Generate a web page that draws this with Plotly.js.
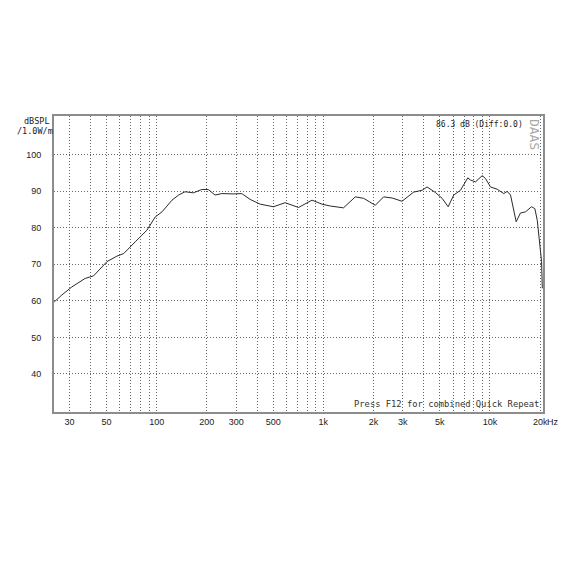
<!DOCTYPE html>
<html>
<head>
<meta charset="utf-8">
<script src="https://cdn.plot.ly/plotly-3.0.1.min.js"></script>
<style>html,body{margin:0;padding:0;background:#fff;}#chart{width:570px;height:570px;}</style>
</head>
<body>
<div id="chart"></div>
<script>
// Frequency response (Hz) and SPL (dB)
const freqHz = [24.3, 27, 31, 37.2, 41.8, 50.3, 57.7, 63.4, 74.3, 87.4, 98, 107.6, 123.6, 135.5,
  148, 166, 186, 204, 224, 246, 289, 324, 364, 418, 502, 590, 710, 855, 982, 1100, 1321,
  1555, 1745, 2050, 2300, 2585, 2966, 3483, 3914, 4193, 4700, 5160, 5610, 6060, 6650, 7360,
  7640, 8190, 8980, 9400, 10070, 11040, 12100, 12680, 13280, 13710, 14360, 15240, 16330,
  17750, 18580, 19220, 19830, 20400, 20600];
const splDb = [59.7, 61.6, 63.8, 66.1, 66.8, 70.7, 72.2, 72.9, 76.1, 79.3, 82.9, 84.3, 87.5, 88.9,
  89.8, 89.5, 90.4, 90.4, 88.9, 89.3, 89.2, 89.3, 87.7, 86.4, 85.7, 86.8, 85.5, 87.5, 86.4, 85.9, 85.4,
  88.4, 88.0, 86.1, 88.4, 88.1, 87.2, 89.7, 90.2, 91.1, 89.6, 88.0, 85.7, 88.9, 90.2, 93.6,
  93.0, 92.5, 94.2, 93.4, 91.1, 90.5, 89.3, 89.9, 88.9, 85.7, 81.6, 84.0, 84.3,
  85.7, 85.2, 82.0, 76.1, 70.7, 63.4];

// Axis ticks / grid
const xGridVals = [30, 40, 50, 60, 70, 80, 90, 100, 200, 300, 400, 500, 600, 700, 800, 900,
  1000, 2000, 3000, 4000, 5000, 6000, 7000, 8000, 9000, 10000, 20000];
const xGridText = ['30', '', '50', '', '', '', '', '100', '200', '300', '', '500', '', '', '', '',
  '1k', '2k', '3k', '', '5k', '', '', '', '', '10k', '20k'];
const yTickVals = [40, 50, 60, 70, 80, 90, 100];
const yTickText = ['40', '50', '60', '70', '80', '90', '100'];

const tickFont = {family: 'Liberation Sans, Arial, sans-serif', size: 9, color: '#222'};
const monoFont = {family: 'DejaVu Sans Mono, monospace', size: 8.5, color: '#222'};

const trace = {
  x: freqHz, y: splDb, type: 'scatter', mode: 'lines',
  line: {color: '#2a2a2a', width: 1},
  hoverinfo: 'skip'
};

const layout = {
  width: 570, height: 570,
  margin: {l: 54, r: 27, t: 116, b: 158, pad: 0},
  paper_bgcolor: '#ffffff', plot_bgcolor: '#ffffff',
  showlegend: false,
  xaxis: {
    type: 'log', range: [Math.log10(24.2), Math.log10(20800)],
    tickmode: 'array', tickvals: xGridVals, ticktext: xGridText,
    showgrid: true, gridcolor: '#666666', griddash: '1px,2px', gridwidth: 1,
    showline: true, linecolor: '#8c8c8c', linewidth: 2, mirror: true,
    ticks: '', zeroline: false, tickfont: tickFont, ticklabelstandoff: 0,
    fixedrange: true
  },
  yaxis: {
    range: [29.6, 110.5],
    tickmode: 'array', tickvals: yTickVals, ticktext: yTickText,
    showgrid: true, gridcolor: '#666666', griddash: '1px,2px', gridwidth: 1,
    showline: true, linecolor: '#8c8c8c', linewidth: 2, mirror: true,
    ticks: '', zeroline: false, tickfont: tickFont, ticklabelstandoff: 9,
    fixedrange: true
  },
  annotations: [
    {text: 'dBSPL', xref: 'paper', yref: 'paper', x: -0.065, y: 0.983, xanchor: 'left', yanchor: 'middle',
      showarrow: false, font: monoFont},
    {text: '/1.0W/m', xref: 'paper', yref: 'paper', x: -0.079, y: 0.951, xanchor: 'left', yanchor: 'middle',
      showarrow: false, font: monoFont},
    {text: '86.3 dB (Diff:0.0)', xref: 'paper', yref: 'paper', x: 0.778, y: 0.9696, xanchor: 'left', yanchor: 'middle',
      showarrow: false, font: {family: 'DejaVu Sans Mono, monospace', size: 8, color: '#222'}},
    {text: 'DAAS', xref: 'paper', yref: 'paper', x: 0.984, y: 0.939, xanchor: 'center', yanchor: 'middle',
      textangle: 90, showarrow: false, font: {family: 'DejaVu Sans Mono, monospace', size: 13, color: '#a8a8a8'}},
    {text: 'Press F12 for combined Quick Repeat', xref: 'paper', yref: 'paper', x: 0.996, y: 0.004,
      xanchor: 'right', yanchor: 'bottom', showarrow: false,
      font: {family: 'DejaVu Sans Mono, monospace', size: 8.8, color: '#333'}},
    {text: 'Hz', xref: 'paper', yref: 'paper', x: 1.0035, y: -0.034, xanchor: 'left', yanchor: 'middle',
      showarrow: false, font: tickFont}
  ]
};

Plotly.newPlot('chart', [trace], layout, {displayModeBar: false, staticPlot: true});
</script>
</body>
</html>
